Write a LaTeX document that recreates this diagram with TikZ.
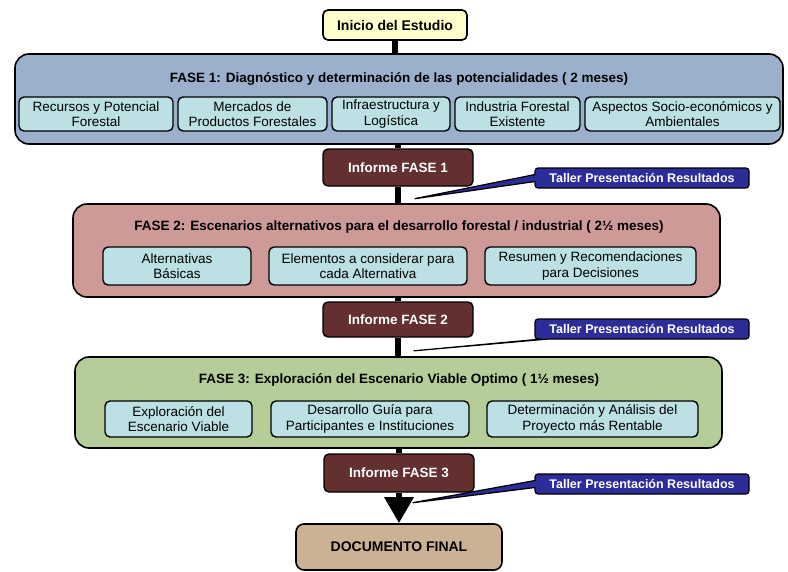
\documentclass[tikz,border=0pt]{standalone}
\usepackage{fontspec}
\setmainfont{Liberation Sans}
\usepackage{tikz}
\usetikzlibrary{shapes.callouts,arrows.meta}
\definecolor{inicio}{HTML}{FFFFCC}
\definecolor{faseuno}{HTML}{9BB0CC}
\definecolor{fasedos}{HTML}{CE9A98}
\definecolor{fasetres}{HTML}{B5CD98}
\definecolor{tema}{HTML}{BCE0E3}
\definecolor{informe}{HTML}{632F2F}
\definecolor{taller}{HTML}{2D2D9A}
\definecolor{final}{HTML}{CCB295}
\tikzset{
  fase/.style={draw=black,line width=1.6pt,rounded corners=14pt,inner sep=0pt},
  titulo/.style={font=\fontsize{13.5}{15}\selectfont\bfseries,inner sep=0pt},
  tema/.style={draw=black,line width=1.4pt,rounded corners=5pt,fill=tema,
    align=center,inner sep=0pt,font=\fontsize{13.5}{15.5}\selectfont},
  informebox/.style={draw=black,line width=1.4pt,rounded corners=5pt,fill=informe,
    text=white,font=\fontsize{13.5}{15}\selectfont\bfseries,
    minimum width=150pt,inner sep=0pt},
  tallerbox/.style={rectangle callout,draw=black,line width=1.2pt,fill=taller,
    rounded corners=3pt,text=white,font=\fontsize{12.5}{14}\selectfont\bfseries,
    minimum width=214pt,minimum height=20pt,inner sep=0pt,
    callout pointer width=7pt},
  enlace/.style={line width=6pt}
}

\begin{document}
\begin{tikzpicture}[x=1pt,y=-1pt]
    \useasboundingbox (0,0) rectangle (788,571);
    \node[fase,fill=inicio,rounded corners=5pt,minimum width=144pt,minimum height=30pt,
      font=\fontsize{14}{16}\selectfont\bfseries] (ini) at (395,25) {Inicio del Estudio};

    \node[fase,fill=faseuno,minimum width=768pt,minimum height=90pt] (f1) at (399,99) {};
    \node[titulo] (f1tit) at (399,79) {FASE 1: Diagnóstico y determinación de las potencialidades ( 2 meses)};
    \node[tema,minimum width=154pt,minimum height=34pt] (rec) at (96,114) {Recursos y Potencial\\Forestal};
    \node[tema,minimum width=149pt,minimum height=34pt] (mer) at (252.5,114) {Mercados de\\Productos Forestales};
    \node[tema,minimum width=118pt,minimum height=34pt] (inf) at (391,114) {Infraestructura y\\Logística};
    \node[tema,minimum width=125pt,minimum height=34pt] (ind) at (517.5,114) {Industria Forestal\\Existente};
    \node[tema,minimum width=195pt,minimum height=34pt] (asp) at (682.5,114) {Aspectos Socio-económicos y\\Ambientales};

    \node[informebox,minimum height=37pt] (i1) at (398,167.5) {Informe FASE 1};
    \coordinate (p1) at (413,199);
    \node[tallerbox,callout absolute pointer={(p1)}] (ta1) at (642,178) {Taller Presentación Resultados};

    \node[fase,fill=fasedos,minimum width=647pt,minimum height=93pt] (f2) at (396.5,250.5) {};
    \node[titulo] (f2tit) at (399,227) {FASE 2: Escenarios alternativos para el desarrollo forestal / industrial ( 2½ meses)};
    \node[tema,minimum width=148pt,minimum height=38pt] (alt) at (177,266) {Alternativas\\Básicas};
    \node[tema,minimum width=198pt,minimum height=38pt] (ele) at (368,266) {Elementos a considerar para\\cada Alternativa};
    \node[tema,minimum width=211pt,minimum height=38pt] (res) at (590.5,266) {Resumen y Recomendaciones\\para Decisiones};

    \node[informebox,minimum height=35pt] (i2) at (398,319.5) {Informe FASE 2};
    \coordinate (p2) at (412,351);
    \node[tallerbox,callout absolute pointer={(p2)}] (ta2) at (642,329) {Taller Presentación Resultados};

    \node[fase,fill=fasetres,minimum width=647pt,minimum height=91pt] (f3) at (398.5,402.5) {};
    \node[titulo] (f3tit) at (399,380) {FASE 3: Exploración del Escenario Viable Optimo ( 1½ meses)};
    \node[tema,minimum width=147pt,minimum height=36pt] (exp) at (178.5,419) {Exploración del\\Escenario Viable};
    \node[tema,minimum width=198pt,minimum height=36pt] (des) at (370,419) {Desarrollo Guía para\\Participantes e Instituciones};
    \node[tema,minimum width=211pt,minimum height=36pt] (det) at (592.5,419) {Determinación y Análisis del\\Proyecto más Rentable};

    \node[informebox,minimum height=38pt] (i3) at (399,473) {Informe FASE 3};
    \coordinate (p3) at (411,503);
    \node[tallerbox,callout absolute pointer={(p3)}] (ta3) at (642,484) {Taller Presentación Resultados};

    \node[fase,fill=final,rounded corners=8pt,minimum width=206pt,minimum height=46pt,
      font=\fontsize{14}{16}\selectfont\bfseries] (doc) at (399,547) {DOCUMENTO FINAL};

    \draw[enlace] (ini.south) -- (ini.south |- f1.north);
    \draw[enlace] (i1.north) -- (i1.north |- f1.south);
    \draw[enlace] (i1.south) -- (i1.south |- f2.north);
    \draw[enlace] (i2.north) -- (i2.north |- f2.south);
    \draw[enlace] (i2.south) -- (i2.south |- f3.north);
    \draw[enlace] (i3.north) -- (i3.north |- f3.south);
    \draw[enlace,-{Triangle[width=28pt,length=26pt]}] (i3.south) -- (doc.north);
\end{tikzpicture}
\end{document}
